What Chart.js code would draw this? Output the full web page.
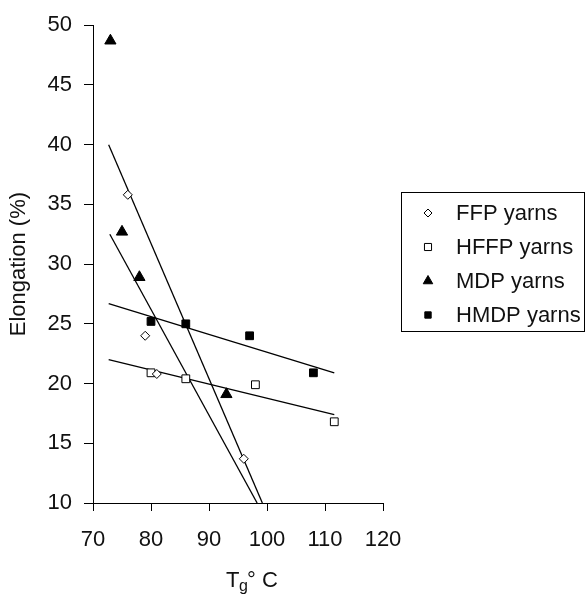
<!DOCTYPE html>
<html>
<head>
<meta charset="utf-8">
<script src="https://cdn.jsdelivr.net/npm/chart.js@4/dist/chart.umd.min.js"></script>
<style>
  html, body { margin: 0; padding: 0; background: #fff; }
  #wrap { width: 587px; height: 597px; }
</style>
</head>
<body>
<div id="wrap"><canvas id="elongChart" width="587" height="597"></canvas></div>
<script>
// Elongation vs Tg for four yarn types

const seriesNames = ['FFP yarns', 'HFFP yarns', 'MDP yarns', 'HMDP yarns'];

const ffpX = [76, 79, 81, 96];
const ffpY = [35.8, 24.0, 20.8, 13.7];
const hffpX = [80, 86, 98, 111.6];
const hffpY = [20.9, 20.4, 19.9, 16.8];
const mdpX = [73, 75, 78, 93];
const mdpY = [48.7, 32.7, 28.9, 19.1];
const hmdpX = [80, 86, 97, 108];
const hmdpY = [25.2, 25.0, 24.0, 20.9];

// trend line end points
const ffpFitX = [72.7, 99.2];
const ffpFitY = [40.0, 10.0];
const mdpFitX = [72.9, 98.3];
const mdpFitY = [32.5, 10.0];
const hffpFitX = [72.7, 111.6];
const hffpFitY = [22.0, 17.4];
const hmdpFitX = [72.7, 111.6];
const hmdpFitY = [26.7, 20.9];

const xTicks = [70, 80, 90, 100, 110, 120];
const yTicks = [10, 15, 20, 25, 30, 35, 40, 45, 50];

const FONT = "'Liberation Sans', Arial, sans-serif";
const INK = '#111';

function pts(xs, ys) {
    return xs.map((x, i) => ({ x: x, y: ys[i] }));
}

function fitLine(xs, ys) {
    return {
        type: 'line',
        data: pts(xs, ys),
        borderColor: '#000',
        borderWidth: 1.3,
        pointRadius: 0,
        fill: false,
        showLine: true,
        order: 2
    };
}

const markerStyles = [
    { pointStyle: 'rectRot', radius: 4.5, fill: '#fff', legendRadius: 4 },
    { pointStyle: 'rect', radius: 5.5, fill: '#fff', legendRadius: 5 },
    { pointStyle: 'triangle', radius: 6.5, fill: '#000', legendRadius: 5.5 },
    { pointStyle: 'rect', radius: 5.5, fill: '#000', legendRadius: 4.5 }
];

const rawSeries = [pts(ffpX, ffpY), pts(hffpX, hffpY), pts(mdpX, mdpY), pts(hmdpX, hmdpY)];

const scatterSets = rawSeries.map((d, i) => ({
    type: 'scatter',
    label: seriesNames[i],
    data: d,
    pointStyle: markerStyles[i].pointStyle,
    pointRadius: markerStyles[i].radius,
    pointBackgroundColor: markerStyles[i].fill,
    pointBorderColor: '#000',
    pointBorderWidth: 1,
    showLine: false,
    order: 1
}));

// boxed legend on the right
const boxLegend = {
    id: 'boxLegend',
    afterDraw(chart) {
        const ctx = chart.ctx;
        const left = 401, top = 192, right = 584, bottom = 331;
        ctx.save();
        ctx.strokeStyle = '#000';
        ctx.lineWidth = 1;
        ctx.strokeRect(left + 0.5, top + 0.5, right - left, bottom - top);
        ctx.font = '22px ' + FONT;
        ctx.textBaseline = 'middle';
        ctx.textAlign = 'left';
        seriesNames.forEach((name, i) => {
            const y = 213 + i * 34;
            const m = markerStyles[i];
            ctx.fillStyle = m.fill;
            ctx.strokeStyle = '#000';
            ctx.lineWidth = 1;
            Chart.helpers.drawPoint(ctx, { pointStyle: m.pointStyle, radius: m.legendRadius, borderWidth: 1, rotation: 0 }, 428, y);
            ctx.fillStyle = INK;
            ctx.fillText(name, 456, y + 1);
        });
        ctx.restore();
    }
};

// x axis title with subscript g
const xTitle = {
    id: 'xTitle',
    afterDraw(chart) {
        const ctx = chart.ctx;
        ctx.save();
        ctx.fillStyle = INK;
        ctx.textBaseline = 'alphabetic';
        ctx.textAlign = 'left';
        ctx.font = '22px ' + FONT;
        ctx.fillText('T', 226, 587);
        ctx.font = '16px ' + FONT;
        ctx.fillText('g', 239, 591);
        ctx.font = '22px ' + FONT;
        ctx.fillText('°', 247, 587);
        ctx.fillText('C', 262, 587);
        ctx.restore();
    }
};

new Chart(document.getElementById('elongChart').getContext('2d'), {
    type: 'scatter',
    data: {
        datasets: scatterSets.concat([
            fitLine(ffpFitX, ffpFitY),
            fitLine(mdpFitX, mdpFitY),
            fitLine(hffpFitX, hffpFitY),
            fitLine(hmdpFitX, hmdpFitY)
        ])
    },
    options: {
        responsive: false,
        animation: false,
        layout: { padding: { top: 21, right: 204, left: 0, bottom: 0 } },
        plugins: {
            legend: { display: false },
            tooltip: { enabled: false }
        },
        scales: {
            x: {
                type: 'linear',
                min: 70,
                max: 120,
                afterBuildTicks: s => { s.ticks = xTicks.map(v => ({ value: v })); },
                afterFit: s => { s.height = 94; },
                grid: { drawOnChartArea: false, drawTicks: true, tickLength: 8, color: '#000' },
                border: { display: true, color: '#000', width: 1 },
                ticks: { color: INK, font: { family: FONT, size: 22 }, padding: 16, maxRotation: 0 }
            },
            y: {
                type: 'linear',
                min: 10,
                max: 50,
                afterBuildTicks: s => { s.ticks = yTicks.map(v => ({ value: v })); },
                afterFit: s => { s.width = 93; },
                grid: { drawOnChartArea: false, drawTicks: true, tickLength: 9, color: '#000' },
                border: { display: true, color: '#000', width: 1 },
                ticks: { color: INK, font: { family: FONT, size: 22 }, padding: 12 },
                title: {
                    display: true,
                    text: 'Elongation (%)',
                    color: INK,
                    font: { family: FONT, size: 22 },
                    padding: { top: 6, bottom: 0 }
                }
            }
        }
    },
    plugins: [boxLegend, xTitle]
});
</script>
</body>
</html>
